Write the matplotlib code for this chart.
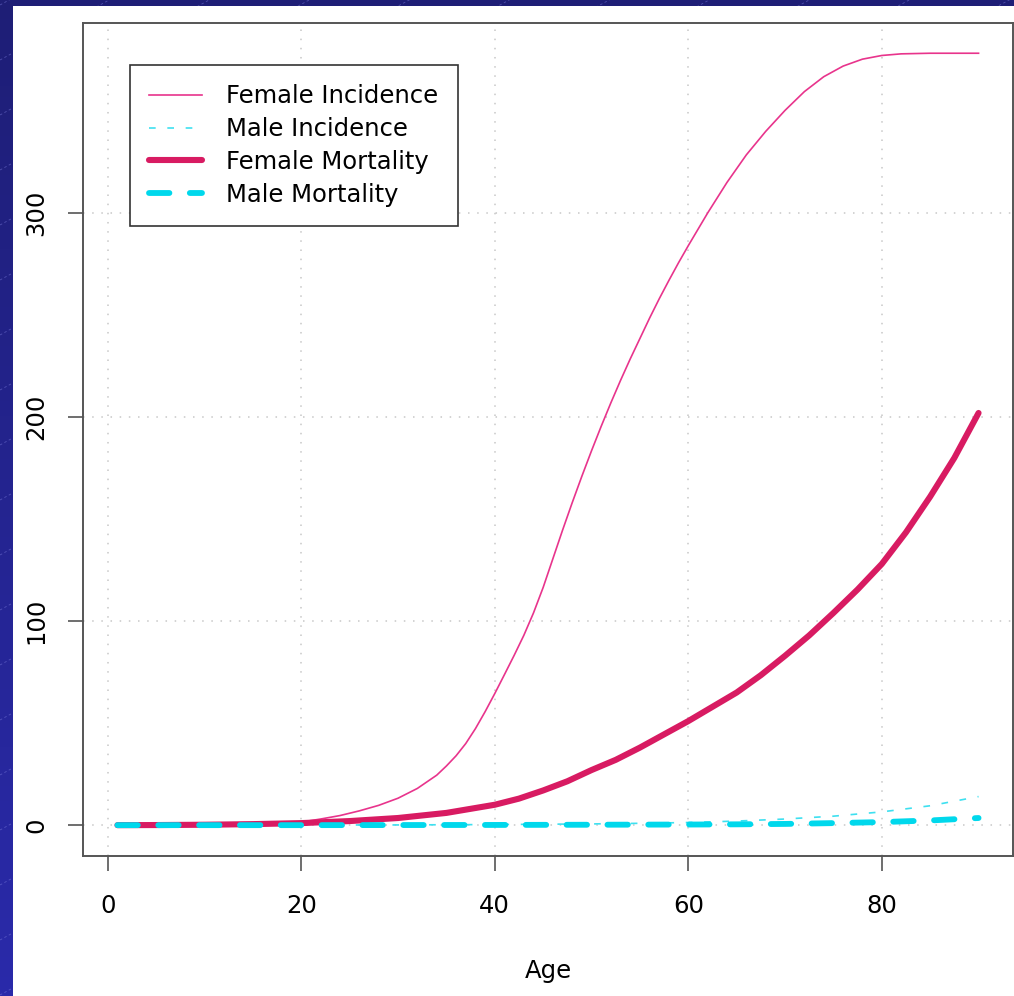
import numpy as np
import matplotlib.pyplot as plt
from matplotlib.patches import Rectangle

# values
fem_inc_age = [1, 5, 10, 15, 20, 22, 24, 26, 28, 30, 32, 34, 35, 36, 37, 38, 39,
               40, 41, 42, 43, 44, 45, 46, 47, 48, 49, 50, 51, 52, 53, 54, 55,
               56, 57, 58, 59, 60, 62, 64, 66, 68, 70, 72, 74, 76, 78, 80, 82,
               85, 90]
fem_inc = [0, 0, 0.1, 0.4, 1.5, 3, 4.7, 7, 9.7, 13.2, 18, 24.5, 29, 34, 40, 47.3,
           55.6, 64.5, 73.8, 83.2, 93, 104, 116.5, 130.5, 144.5, 158, 171,
           183.5, 195.5, 207, 218, 228.5, 238.5, 248.5, 258, 267, 275.7, 284,
           300, 315, 328.5, 340, 350.3, 359.5, 366.8, 372, 375.4, 377.2, 378,
           378.3, 378.3]

male_inc_age = [1, 10, 20, 30, 40, 50, 55, 60, 65, 70, 75, 80, 85, 90]
male_inc = [0, 0, 0.05, 0.1, 0.3, 0.6, 0.9, 1.3, 2, 3, 4.4, 6.5, 9.5, 14]

fem_mort_age = [1, 5, 10, 15, 20, 25, 30, 35, 40, 42.5, 45, 47.5, 50, 52.5, 55,
                57.5, 60, 62.5, 65, 67.5, 70, 72.5, 75, 77.5, 80, 82.5, 85,
                87.5, 90]
fem_mort = [0, 0.05, 0.2, 0.5, 1, 2, 3.5, 6, 10, 13, 17, 21.5, 27, 32, 38,
            44.5, 51, 58, 65, 73.5, 83, 93, 104, 115.5, 128, 143.5, 161,
            180, 202]

male_mort_age = [1, 10, 20, 30, 40, 50, 60, 65, 70, 75, 80, 85, 90]
male_mort = [0, 0, 0, 0.05, 0.1, 0.2, 0.3, 0.4, 0.6, 1, 1.5, 2.3, 3.5]

xticks = [0, 20, 40, 60, 80]
yticks = [0, 100, 200, 300]

W, H = 1014, 996
fig = plt.figure(figsize=(W / 100, H / 100), dpi=100)

# slide background: navy gradient with faint diagonal streaks
bg = fig.add_axes([0, 0, 1, 1])
bg.set_xlim(0, W)
bg.set_ylim(H, 0)
bg.axis('off')
grad = np.linspace(0, 1, 256).reshape(-1, 1)
top = np.array([0x1e, 0x1e, 0x76]) / 255
bot = np.array([0x2a, 0x2a, 0xaa]) / 255
img = top + grad[..., None] * (bot - top)
bg.imshow(img, extent=[0, W, H, 0], aspect='auto', zorder=0)
xs = np.array([0, W])
for c in range(-600, 1800, 55):
    bg.plot(xs, c - 0.55 * xs, color='#8080e0', lw=0.6, alpha=0.5,
            linestyle=(0, (3, 3)), zorder=1)
bg.add_patch(Rectangle((13, 6), W - 13, H - 6, facecolor='white',
                       edgecolor='none', zorder=2))

ax = fig.add_axes([83 / W, 1 - 856 / H, 930 / W, 833 / H])
ax.set_facecolor('white')

ax.plot(fem_inc_age, fem_inc, color='#e8348c', lw=1.2, label='Female Incidence')
ax.plot(male_inc_age, male_inc, color='#3ee0f0', lw=1.2,
        dashes=(4, 7), label='Male Incidence')
ax.plot(fem_mort_age, fem_mort, color='#d81b62', lw=4.4,
        solid_capstyle='round', solid_joinstyle='round', label='Female Mortality')
ax.plot(male_mort_age, male_mort, color='#00d8ec', lw=4.2,
        dashes=(3.5, 3.5), dash_capstyle='round', label='Male Mortality')

ax.set_xlim(1 - 0.04 * 89, 90 + 0.04 * 89)
ax.set_ylim(-0.04 * 378, 378 * 1.04)
ax.set_xticks(xticks)
ax.set_yticks(yticks)
ax.grid(True, color='#c8c8c8', lw=1.1, linestyle=(0, (1, 5)))

for s in ax.spines.values():
    s.set_color('#555555')
    s.set_linewidth(1.4)

ax.tick_params(axis='both', direction='out', length=11, width=1.2,
               color='#555555', labelsize=17.5, labelcolor='black')
ax.tick_params(axis='x', pad=16)
ax.tick_params(axis='y', pad=14)
for lab in ax.get_yticklabels():
    lab.set_rotation(90)
    lab.set_va('center')

ax.set_xlabel('Age', fontsize=17.5, labelpad=30)

leg = ax.legend(loc='upper left', bbox_to_anchor=(47 / 930, 1 - 42 / 833),
                borderaxespad=0, fontsize=17.5, fancybox=False, framealpha=1,
                edgecolor='#333333', handlelength=2.15, handletextpad=1.0,
                borderpad=0.8, labelspacing=0.36)
leg.get_frame().set_linewidth(1.2)

fig.savefig('out.png', dpi=100)
